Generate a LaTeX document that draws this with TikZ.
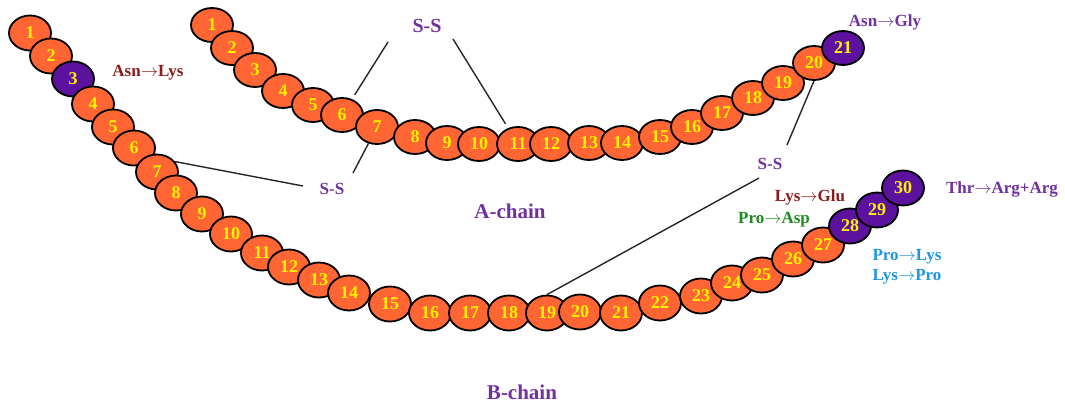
\documentclass[tikz,border=0pt]{standalone}
\usepackage{fontspec}
\setmainfont{Liberation Serif}
\usetikzlibrary{shapes.geometric}
\definecolor{beadorange}{RGB}{255,102,51}
\definecolor{beadpurple}{RGB}{92,18,158}
\definecolor{lblpurple}{RGB}{112,48,160}
\definecolor{lblred}{RGB}{140,28,28}
\definecolor{lblgreen}{RGB}{30,140,30}
\definecolor{lblblue}{RGB}{30,150,225}
\newcommand{\mut}{$\rightarrow$}
\begin{document}
\begin{tikzpicture}[x=1pt,y=-1pt,
  bead/.style={ellipse, draw=black, line width=1.8pt, fill=beadorange,
    minimum width=42pt, minimum height=34pt, inner sep=0pt, text=yellow,
    font=\bfseries\fontsize{18}{18}\selectfont},
  pbead/.style={bead, fill=beadpurple},
  lbl/.style={font=\bfseries\fontsize{17}{17}\selectfont, inner sep=0pt},
  sslbl/.style={lbl, text=lblpurple},
  link/.style={line width=1.4pt, draw=black!85}]
\useasboundingbox (0,0) rectangle (1065,405);

% A-chain
\foreach \n/\x/\y/\s in {1/212/25/bead, 2/232/48/bead, 3/255/70/bead, 4/283/91/bead,
  5/313/105/bead, 6/342/115/bead, 7/377/127/bead, 8/415/137/bead, 9/447/143/bead,
  10/479/144/bead, 11/518/144/bead, 12/551/144/bead, 13/589/143/bead, 14/622/143/bead,
  15/660/137/bead, 16/692/127/bead, 17/722/113/bead, 18/753/98/bead, 19/783/83/bead,
  20/814/63/bead, 21/843/48/pbead}
  \node[\s] (A\n) at (\x,\y) {\n};

% B-chain
\foreach \n/\x/\y/\s in {1/30/33/bead, 2/51/56/bead, 3/73/79/pbead, 4/93/104/bead,
  5/113/127/bead, 6/134/148/bead, 7/157/172/bead, 8/176/193/bead, 9/202/214/bead,
  10/231/234/bead, 11/262/253/bead, 12/289/267/bead, 13/319/280/bead, 14/349/293/bead,
  15/390/304/bead, 16/430/313/bead, 17/470/313/bead, 18/509/313/bead, 19/547/313/bead,
  20/580/312/bead, 21/621/313/bead, 22/660/303/bead, 23/701/296/bead, 24/732/283/bead,
  25/762/275/bead, 26/793/259/bead, 27/823/245/bead, 28/850/226/pbead, 29/877/210/pbead,
  30/903/188/pbead}
  \node[\s, minimum height=35pt] (B\n) at (\x,\y) {\n};

% S-S labels
\node[sslbl, font=\bfseries\fontsize{20}{20}\selectfont] (ssTop) at (427,26) {S-S};
\node[sslbl] (ssMid) at (332,189) {S-S};
\node[sslbl] (ssRight) at (770,164) {S-S};

\coordinate (tA) at (388,42);
\coordinate (tB) at (453,39);
\coordinate (mA) at (303,186);
\coordinate (mB) at (353,173);
\coordinate (rA) at (787,145);
\coordinate (rB) at (759,178);

\draw[link, shorten >=5pt] (tA) -- (A6);
\draw[link, shorten >=5pt] (tB) -- (A11);
\draw[link] (B7.30) -- (mA);
\draw[link] (A7) -- (mB);
\draw[link] (A20.south) -- (rA);
\draw[link] (B19.north) -- (rB);

% chain labels
\node[sslbl, font=\bfseries\fontsize{21}{21}\selectfont] (achain) at (510,211) {A-chain};
\node[sslbl, font=\bfseries\fontsize{21}{21}\selectfont] (bchain) at (522,392) {B-chain};

% mutation labels
\node[lbl, text=lblred] (m1) at (148,73) {Asn\mut Lys};
\node[lbl, text=lblpurple] (m2) at (885,22) {Asn\mut Gly};
\node[lbl, text=lblred] (m3) at (810,197) {Lys\mut Glu};
\node[lbl, text=lblgreen] (m4) at (774,220) {Pro\mut Asp};
\node[lbl, text=lblblue] (m5) at (907,257) {Pro\mut Lys};
\node[lbl, text=lblblue] (m6) at (907,277) {Lys\mut Pro};
\node[lbl, text=lblpurple] (m7) at (1002,189) {Thr\mut Arg+Arg};
\end{tikzpicture}
\end{document}
